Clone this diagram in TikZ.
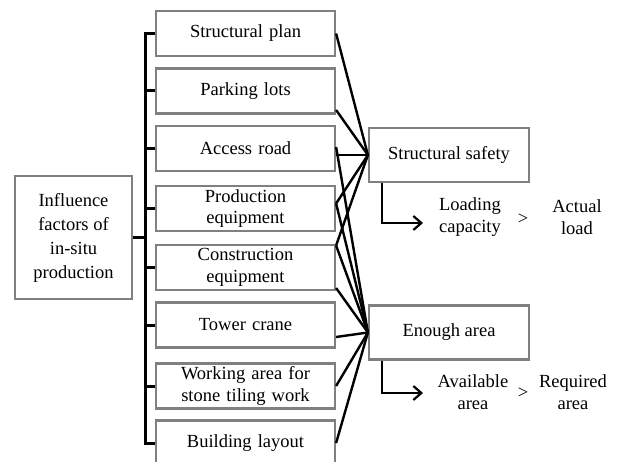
\documentclass[tikz,border=0pt]{standalone}
\usepackage{fontspec}
\setmainfont{Liberation Serif}
\usetikzlibrary{arrows.meta}
\begin{document}
\begin{tikzpicture}[x=1pt,y=-1pt,
  txt/.style={font=\fontsize{18.5}{21.5}\selectfont, align=center},
  box/.style={txt, draw=gray, line width=2.2pt, fill=white, inner sep=2pt},
  fac/.style={box, minimum width=179pt, minimum height=45pt, text width=172pt},
  goal/.style={box, minimum width=160pt, minimum height=54pt},
  res/.style={txt, inner sep=0pt},
  link/.style={line width=2.4pt},
  brk/.style={line width=3pt},
  arr/.style={line width=2.2pt, -{Straight Barb[length=8pt,width=14pt,line width=2.2pt]}}]
\useasboundingbox (0,0) rectangle (617,462);

% influence box
\node[box, minimum width=117pt, minimum height=123pt, font=\fontsize{18.5}{24}\selectfont] (inf) at (73.5,237.5) {Influence\\factors of\\in-situ\\production};

% factor boxes
\node[fac] (plan)    at (245.5,33.5)  {Structural plan};
\node[fac] (parking) at (245.5,91)    {Parking lots};
\node[fac] (access)  at (245.5,148.5) {Access road};
\node[fac] (prod)    at (245.5,208.5) {Production\\equipment};
\node[fac] (constr)  at (245.5,267.5) {Construction\\equipment};
\node[fac] (tower)   at (245.5,325)   {Tower crane};
\node[fac] (work)    at (245.5,386)   {Working area for\\stone tiling work};
\node[fac] (layout)  at (245.5,443)   {Building layout};

% goal boxes
\node[goal] (ss) at (449,155)   {Structural safety};
\node[goal] (ea) at (449,332.5) {Enough area};

% bracket
\coordinate (bx) at (145,0);
\draw[brk] (plan.west) -- (plan.west -| bx) -- (layout.west -| bx) -- (layout.west);
\foreach \n in {parking,access,prod,constr,tower,work}
  \draw[brk] (\n.west) -- (\n.west -| bx);
\draw[brk] (inf.east) -- (inf.east -| bx);

% links to structural safety
\draw[link] (plan.east) -- (ss.west);
\draw[link] ([yshift=-19pt]parking.east) -- (ss.west);
\draw[link] ([yshift=-6.5pt]access.east) -- (ss.west);
\draw[link] ([yshift=5pt]prod.east) -- (ss.west);
\draw[link] ([yshift=22pt]constr.east) -- (ss.west);

% links to enough area
\draw[link] ([yshift=1.5pt]access.east) -- (ea.west);
\draw[link] ([yshift=5pt]prod.east) -- (ea.west);
\draw[link] ([yshift=22pt]constr.east) -- (ea.west);
\draw[link] ([yshift=-20.5pt]constr.east) -- (ea.west);
\draw[link] ([yshift=-12pt]tower.east) -- (ea.west);
\draw[link] (work.east) -- (ea.west);
\draw[link] (layout.east) -- (ea.west);

% results
\node[res] (lc)  at (470,217) {Loading\\capacity};
\node[res] (gt1) at (523,219) {>};
\node[res] (al)  at (577,217) {Actual\\load};
\node[res] (av)  at (473,392) {Available\\area};
\node[res] (gt2) at (523,393) {>};
\node[res] (ra)  at (573,392) {Required\\area};

\coordinate (lca) at (423,223);
\coordinate (ava) at (423,393);
\draw[arr] ([xshift=14pt]ss.south west) |- (lca);
\draw[arr] ([xshift=14pt]ea.south west) |- (ava);
\end{tikzpicture}
\end{document}
